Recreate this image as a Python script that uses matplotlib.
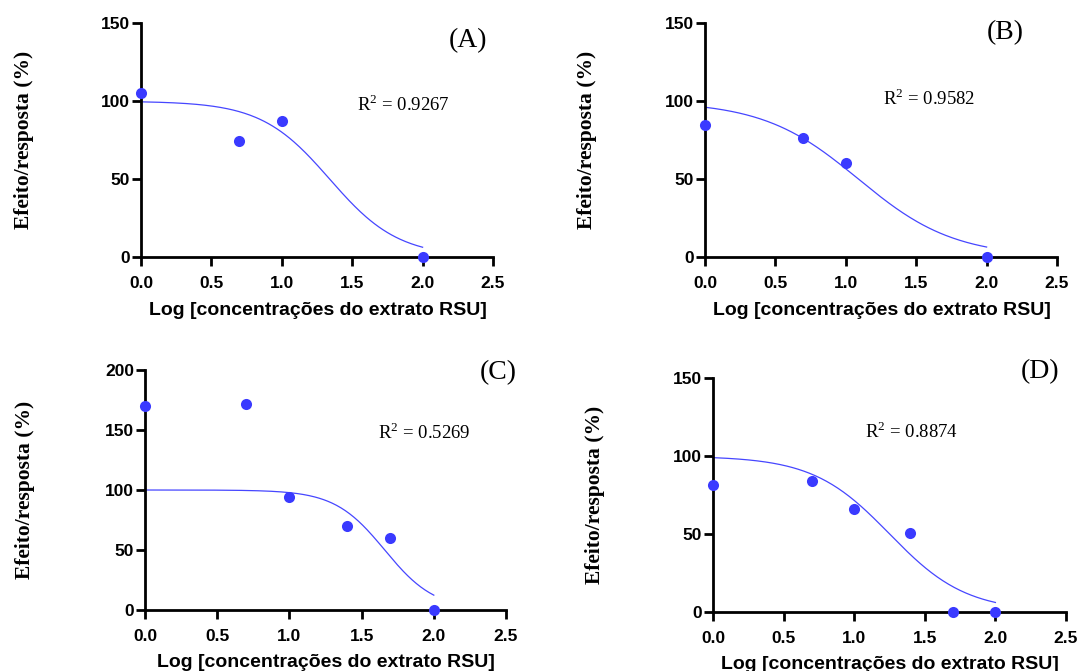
import numpy as np
from matplotlib import pyplot as plt

# log das concentrações do extrato
x_ab = [0.0, 0.699, 1.0, 2.0]
x_cd = [0.0, 0.699, 1.0, 1.398, 1.699, 2.0]

# efeito/resposta (%)
y_a = [105.0, 74.5, 87.5, 0.0]
y_b = [84.6, 76.7, 60.6, 0.0]
y_c = [170.0, 171.4, 94.0, 70.0, 60.0, 0.0]
y_d = [81.4, 84.0, 65.8, 50.4, 0.0, 0.0]

# parâmetros do ajuste dose-resposta (top, bottom, logIC50, hill)
fit_a = [100.0, 0.0, 1.34, 1.78]
fit_b = [100.0, 0.0, 1.09, 1.28]
fit_c = [100.0, 0.0, 1.66, 2.5]
fit_d = [100.0, 0.0, 1.25, 1.6]

r2_labels = ["R$^2$ = 0.9267", "R$^2$ = 0.9582", "R$^2$ = 0.5269", "R$^2$ = 0.8874"]
panel_labels = ["(A)", "(B)", "(C)", "(D)"]

W, H = 1079, 671
BLUE_PT = "#3a3aff"
BLUE_LN = "#4646ff"
SANS = "Liberation Sans"
SERIF = "Liberation Serif"

plt.rcParams["mathtext.fontset"] = "custom"
plt.rcParams["mathtext.rm"] = SERIF


def px_rect(x0, x1, ytop, ybot):
    return [x0 / W, 1 - ybot / H, (x1 - x0) / W, (ybot - ytop) / H]


def fig_text(fig, x, y, s, **kw):
    fig.text(x / W, 1 - y / H, s, **kw)


def curve(fit, xs):
    top, bottom, logic50, hill = fit
    return bottom + (top - bottom) / (1 + 10 ** ((xs - logic50) * hill))


fig = plt.figure(figsize=(W / 100, H / 100), dpi=100)

panels = [
    # rect px, xdata, ydata, fit, ymax, ylabel pos, xlabel pos, panel pos, r2 pos
    ((141, 493, 23.3, 257), x_ab, y_a, fit_a, 150, (24, 140), (318, 315), (468, 41), (357, 111)),
    ((705, 1057, 23.3, 257), x_ab, y_b, fit_b, 150, (587, 140), (882, 315), (1005, 33), (883, 105)),
    ((145, 506, 370, 610), x_cd, y_c, fit_c, 200, (25, 490), (326, 667), (498, 373), (378, 439)),
    ((713, 1066, 378.3, 611.7), x_cd, y_d, fit_d, 150, (595, 495), (890, 669), (1040, 372), (865, 438)),
]

for i, (rect, xs, ys, fit, ymax, ylp, xlp, plp, r2p) in enumerate(panels):
    ax = fig.add_axes(px_rect(*rect))
    xx = np.linspace(0, 2, 200)
    ax.plot(xx, curve(fit, xx), color=BLUE_LN, lw=0.9, zorder=3)
    ax.plot(xs, ys, "o", color=BLUE_PT, ms=8, mec="none", clip_on=False, zorder=5)

    ax.set_xlim(0, 2.5)
    ax.set_ylim(0, ymax)
    ax.set_xticks([0, 0.5, 1.0, 1.5, 2.0, 2.5])
    ax.set_xticklabels(["0.0", "0.5", "1.0", "1.5", "2.0", "2.5"])
    ax.set_yticks(np.arange(0, ymax + 1, 50))
    for s in ["top", "right"]:
        ax.spines[s].set_visible(False)
    for s in ["left", "bottom"]:
        ax.spines[s].set_linewidth(2.0)
        ax.spines[s].set_zorder(4)
    ax.tick_params(axis="both", width=2.0, length=6.5, direction="out")
    ax.tick_params(axis="x", pad=7.5)
    ax.tick_params(axis="y", pad=1.5)
    for lab in ax.get_xticklabels() + ax.get_yticklabels():
        lab.set_fontfamily(SANS)
        lab.set_fontweight("bold")
        lab.set_fontsize(12.5)

    fig_text(fig, *ylp, "Efeito/resposta (%)", family=SERIF, weight="bold",
             fontsize=15.5, rotation=90, ha="center", va="center")
    fig_text(fig, *xlp, "Log [concentrações do extrato RSU]", family=SANS,
             weight="bold", fontsize=14, ha="center", va="baseline")
    fig_text(fig, *plp, panel_labels[i], family=SERIF, fontsize=20,
             ha="center", va="center")
    fig_text(fig, *r2p, r2_labels[i], family=SERIF, fontsize=13.5,
             ha="left", va="baseline")

fig.savefig("out.png", dpi=100)
